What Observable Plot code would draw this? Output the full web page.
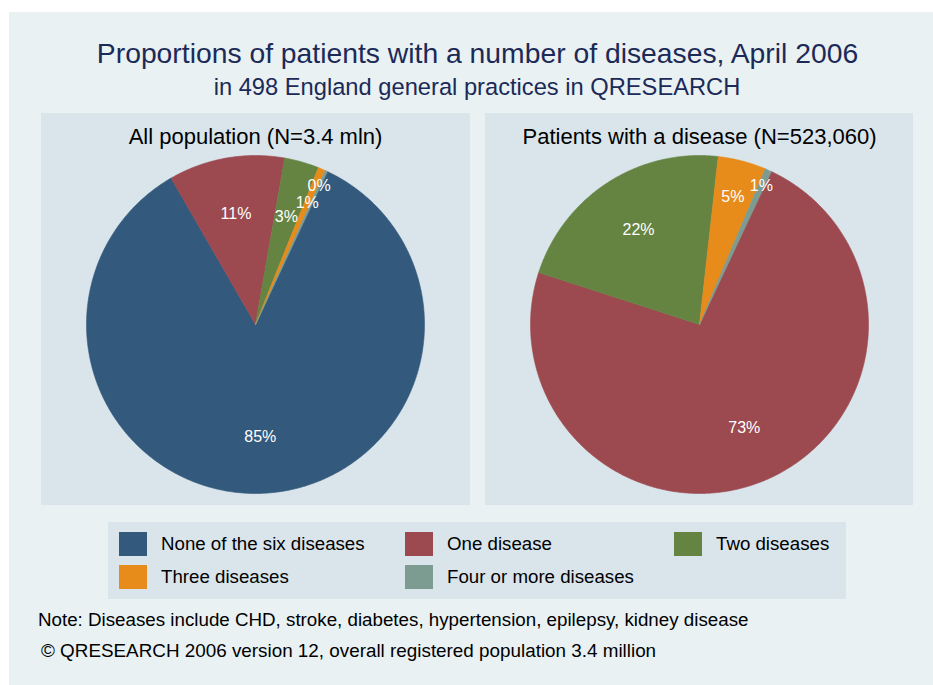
<!DOCTYPE html>
<html><head><meta charset="utf-8">
<script src="https://cdn.jsdelivr.net/npm/d3@7"></script>
<script src="https://cdn.jsdelivr.net/npm/@observablehq/plot@0.6"></script>
<style>
body{margin:0;background:#ffffff;font-family:"Liberation Sans",Arial,Helvetica,sans-serif;}
#page{position:absolute;left:9px;top:12px;width:924px;height:673px;background:#e9f1f3;overflow:hidden;}
.t{position:absolute;white-space:nowrap;line-height:1;}
.c{transform:translateX(-50%);}
#legend{position:absolute;left:99px;top:510px;width:738px;height:77px;background:#d9e5eb;}
.sw{position:absolute;width:28px;height:24px;}
.lt{position:absolute;font-size:18.7px;line-height:1;color:#000;white-space:nowrap;}
.panel{position:absolute;top:101px;}
</style></head><body>
<div id="page"></div>
<script>
// ---- data ----
const categories = ["None of the six diseases", "One disease", "Two diseases", "Three diseases", "Four or more diseases"];
const colors = ["#33597c", "#9c4950", "#658442", "#e78b1b", "#7d9c91"];
const allPopulation = [84.7, 11.1, 3.3, 0.7, 0.2];   // percent
const withDisease = [0.0, 73.0, 21.8, 4.6, 0.6];      // percent
const panelTitles = ["All population (N=3.4 mln)", "Patients with a disease (N=523,060)"];
const title = "Proportions of patients with a number of diseases, April 2006";
const subtitle = "in 498 England general practices in QRESEARCH";
const note = "Note: Diseases include CHD, stroke, diabetes, hypertension, epilepsy, kidney disease";
const credit = "\u00A9 QRESEARCH 2006 version 12, overall registered population 3.4 million";

// ---- styling parameters ----
const startAngle = 64.9;                          // degrees (math convention); slices run clockwise
const labelRadius = [0.665, 0.665, 0.665, 0.78, 0.9];

const page = document.getElementById("page");
function addText(txt, cls, css) {
  const d = document.createElement("div");
  d.className = "t " + cls;
  d.textContent = txt;
  Object.assign(d.style, css);
  page.appendChild(d);
}
addText(title, "c", {left: "468.5px", top: "27px", fontSize: "28.3px", color: "#1c2a57"});
addText(subtitle, "c", {left: "468px", top: "64px", fontSize: "23.7px", color: "#1c2a57"});
addText(note, "", {left: "29px", top: "599px", fontSize: "18.75px", color: "#000"});
addText(credit, "", {left: "32px", top: "630px", fontSize: "18.85px", color: "#000"});

function slices(values) {
  const polys = [], labels = [];
  let a = startAngle;
  values.forEach((v, i) => {
    const span = v * 3.6;
    const end = a - span;
    if (v > 0) {
      const pts = [{x: 0, y: 0, cat: categories[i]}];
      const n = Math.max(2, Math.ceil(span / 0.5));
      for (let k = 0; k <= n; k++) {
        const t = (a - span * k / n) * Math.PI / 180;
        pts.push({x: Math.cos(t), y: Math.sin(t), cat: categories[i]});
      }
      polys.push(...pts);
      const m = (a + end) / 2 * Math.PI / 180;
      labels.push({x: labelRadius[i] * Math.cos(m), y: labelRadius[i] * Math.sin(m), text: Math.round(v) + "%"});
    }
    a = end;
  });
  return {polys, labels};
}

function pie(values, ttl, width) {
  const {polys, labels} = slices(values);
  return Plot.plot({
    width, height: 392,
    marginLeft: 45, marginRight: width - 45 - 338, marginTop: 42, marginBottom: 12,
    x: {domain: [-1, 1], axis: null},
    y: {domain: [-1, 1], axis: null},
    color: {domain: categories, range: colors},
    style: {background: "#d9e5eb", fontFamily: "'Liberation Sans', Arial, Helvetica, sans-serif", overflow: "visible"},
    marks: [
      Plot.line(polys, {x: "x", y: "y", z: "cat", fill: "cat", stroke: "cat", strokeWidth: 0.6, curve: "linear-closed"}),
      Plot.text(labels, {x: "x", y: "y", text: "text", fill: "white", fontSize: 16}),
      Plot.text([ttl], {frameAnchor: "top", dy: -27, text: d => d, fontSize: 22, fill: "black"})
    ]
  });
}

const p1 = pie(allPopulation, panelTitles[0], 429);
p1.classList.add("panel"); p1.style.left = "32px";
page.appendChild(p1);
const p2 = pie(withDisease, panelTitles[1], 428);
p2.classList.add("panel"); p2.style.left = "476px";
page.appendChild(p2);

// ---- legend ----
const legend = document.createElement("div");
legend.id = "legend";
page.appendChild(legend);
const colX = [11, 297, 566];
categories.forEach((c, i) => {
  const col = i % 3, row = Math.floor(i / 3);
  const sw = document.createElement("div");
  sw.className = "sw";
  sw.style.left = colX[col] + "px";
  sw.style.top = (10 + row * 33) + "px";
  sw.style.background = colors[i];
  legend.appendChild(sw);
  const lt = document.createElement("div");
  lt.className = "lt";
  lt.textContent = c;
  lt.style.left = (colX[col] + 42) + "px";
  lt.style.top = (13 + row * 33) + "px";
  legend.appendChild(lt);
});
</script>
</body></html>
